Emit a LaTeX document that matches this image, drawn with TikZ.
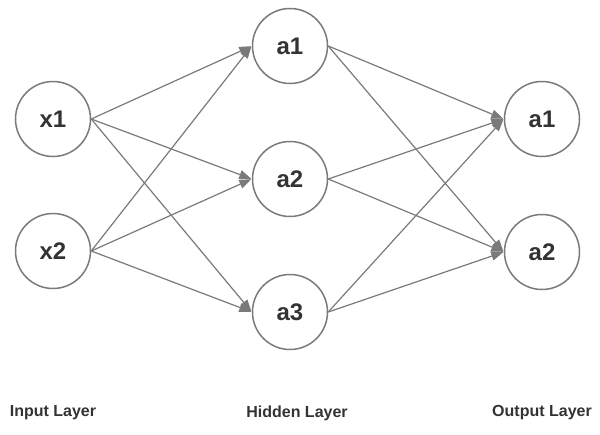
\documentclass[tikz,border=0pt]{standalone}
\usepackage{fontspec}
\setmainfont{Liberation Sans}
\usetikzlibrary{arrows.meta}
\definecolor{edgegray}{HTML}{7A7A7A}
\definecolor{txtgray}{HTML}{333333}
\tikzset{
  neuron/.style={circle, draw=edgegray, line width=1.5pt, minimum size=75pt, inner sep=0pt,
     font=\fontsize{24}{26}\selectfont\bfseries, text=txtgray},
  conn/.style={draw=edgegray, line width=1.2pt, -{Triangle[length=12pt,width=9pt]}, shorten >=0.5pt},
  layerlabel/.style={font=\fontsize{16}{18}\selectfont\bfseries, text=txtgray, inner sep=0pt}
}
\begin{document}
\begin{tikzpicture}[x=1pt,y=-1pt]
\useasboundingbox[fill=white] (0,0) rectangle (600,434);
\node[neuron] (x1) at (53,119) {x1};
\node[neuron] (x2) at (53,251) {x2};
\node[neuron] (h1) at (290,46) {a1};
\node[neuron] (h2) at (290,179) {a2};
\node[neuron] (h3) at (290,312) {a3};
\node[neuron] (o1) at (542,119) {a1};
\node[neuron] (o2) at (542,252) {a2};
\foreach \s in {x1,x2}{
  \foreach \t in {h1,h2,h3}{
    \draw[conn] (\s.east) -- (\t.west);
  }
}
\foreach \s in {h1,h2,h3}{
  \foreach \t in {o1,o2}{
    \draw[conn] (\s.east) -- (\t.west);
  }
}
\node[layerlabel] (l1) at (53,413) {Input Layer};
\node[layerlabel] (l2) at (297,413) {Hidden Layer};
\node[layerlabel] (l3) at (542,413) {Output Layer};
\end{tikzpicture}
\end{document}
